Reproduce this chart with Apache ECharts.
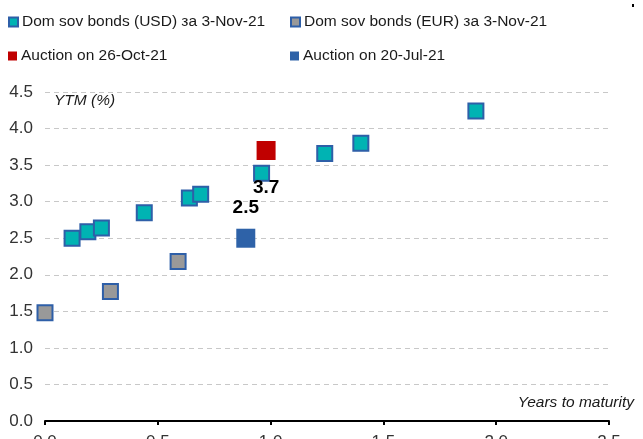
<!DOCTYPE html>
<html>
<head>
<meta charset="utf-8">
<script src="https://cdn.jsdelivr.net/npm/echarts@6/dist/echarts.min.js"></script>
<style>
  html, body { margin: 0; padding: 0; background: #fff; }
  #chart { width: 643px; height: 439px; }
</style>
</head>
<body>
<div id="chart"></div>
<script>
// years to maturity / YTM (%)
var usdYears = [0.12, 0.19, 0.25, 0.44, 0.64, 0.69, 0.96, 1.24, 1.40, 1.91]
var usdYtm = [2.50, 2.59, 2.64, 2.85, 3.05, 3.10, 3.39, 3.66, 3.80, 4.24]
var eurYears = [0.00, 0.29, 0.59]
var eurYtm = [1.48, 1.77, 2.18]
var octAuction = [[0.98, 3.7]]
var julAuction = [[0.89, 2.5]]
var xTicks = { min: 0, max: 2.5, interval: 0.5 }
var yTicks = { min: 0, max: 4.5, interval: 0.5 }

var names = [
  'Dom sov bonds (USD) за 3-Nov-21',
  'Dom sov bonds (EUR) за 3-Nov-21',
  'Auction on 26-Oct-21',
  'Auction on 20-Jul-21'
]

function zip(xs, ys) {
  return xs.map(function (x, i) { return [x, ys[i]] })
}

var font = "'Liberation Sans', sans-serif"
var chart = echarts.init(document.getElementById('chart'))

function legendAt(name, left, top) {
  return {
    data: [name],
    left: left,
    top: top,
    padding: 0,
    itemWidth: 9,
    itemHeight: 9,
    itemGap: 4,
    icon: 'rect',
    selectedMode: false,
    textStyle: { fontFamily: font, fontSize: 15.5, color: '#1a1a1a', padding: [0, 0, 0, -1] }
  }
}

chart.setOption({
  animation: false,
  backgroundColor: '#fff',
  textStyle: { fontFamily: font },
  legend: [
    legendAt(names[0], 8, 14),
    legendAt(names[1], 290, 14),
    legendAt(names[2], 8, 48),
    legendAt(names[3], 290, 48)
  ],
  grid: { left: 45, right: 34, top: 92, bottom: 18, containLabel: false, outerBoundsMode: 'none' },
  xAxis: {
    type: 'value',
    min: xTicks.min,
    max: xTicks.max,
    interval: xTicks.interval,
    name: 'Years to maturity',
    nameLocation: 'end',
    nameGap: 25,
    nameTextStyle: {
      fontFamily: font, fontSize: 15.5, fontStyle: 'italic', color: '#1a1a1a',
      align: 'right', verticalAlign: 'bottom', padding: [0, 0, 10, 0]
    },
    axisLine: { lineStyle: { color: '#000', width: 2 } },
    axisTick: { show: true, length: 4, lineStyle: { color: '#000', width: 2 } },
    axisLabel: {
      fontFamily: font, fontSize: 17, color: '#333', margin: 13,
      formatter: function (v) { return v.toFixed(1) }
    },
    splitLine: { show: false }
  },
  yAxis: {
    type: 'value',
    min: yTicks.min,
    max: yTicks.max,
    interval: yTicks.interval,
    name: 'YTM (%)',
    nameLocation: 'end',
    nameGap: -9,
    nameTextStyle: {
      fontFamily: font, fontSize: 15.5, fontStyle: 'italic', color: '#1a1a1a',
      align: 'left', verticalAlign: 'middle', padding: [0, 0, 0, 9]
    },
    axisLine: { show: false },
    axisTick: { show: false },
    axisLabel: {
      fontFamily: font, fontSize: 17, color: '#333', margin: 12,
      formatter: function (v) { return v.toFixed(1) }
    },
    splitLine: { lineStyle: { color: '#c8c8c8', type: [5, 4], width: 1 } }
  },
  series: [
    {
      name: names[0],
      type: 'scatter',
      symbol: 'rect',
      symbolSize: 15,
      itemStyle: { color: '#00b3b3', borderColor: '#2e5fa8', borderWidth: 2, opacity: 1 },
      data: zip(usdYears, usdYtm)
    },
    {
      name: names[1],
      type: 'scatter',
      symbol: 'rect',
      symbolSize: 15,
      itemStyle: { color: '#999999', borderColor: '#2e5fa8', borderWidth: 2, opacity: 1 },
      data: zip(eurYears, eurYtm)
    },
    {
      name: names[2],
      type: 'scatter',
      symbol: 'rect',
      symbolSize: 19,
      itemStyle: { color: '#c00000', opacity: 1 },
      label: {
        show: true, position: 'bottom', distance: 18,
        fontFamily: font, fontSize: 19, fontWeight: 'bold', color: '#000',
        formatter: function (p) { return p.value[1].toFixed(1) }
      },
      data: octAuction
    },
    {
      name: names[3],
      type: 'scatter',
      symbol: 'rect',
      symbolSize: 19,
      itemStyle: { color: '#2e62a8', opacity: 1 },
      label: {
        show: true, position: 'top', distance: 11,
        fontFamily: font, fontSize: 19, fontWeight: 'bold', color: '#000',
        formatter: function (p) { return p.value[1].toFixed(1) }
      },
      data: julAuction
    }
  ],
  graphic: [
    { type: 'rect', left: 632, top: 4, shape: { width: 2, height: 3 }, style: { fill: '#000' } }
  ]
})
</script>
</body>
</html>
